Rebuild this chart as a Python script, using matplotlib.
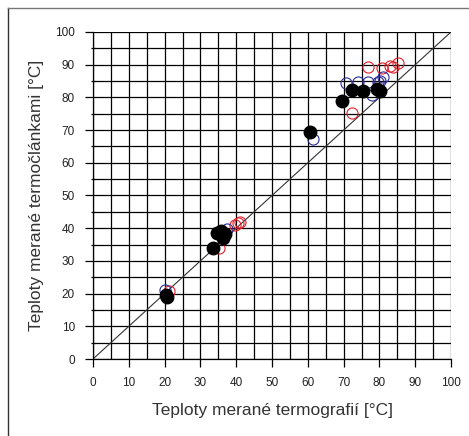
import matplotlib.pyplot as plt
import numpy as np
from matplotlib.lines import Line2D

plt.rcParams['font.family'] = ['Liberation Sans', 'DejaVu Sans']

# termografia (x) vs termoclanky (y)
blackX = [20.6, 20.4, 33.6, 34.5, 36.4, 37.0, 35.8, 60.6, 69.5, 72.3, 75.5, 79.2, 80.2]
blackY = [19.0, 19.6, 33.8, 38.6, 36.9, 38.2, 39.0, 69.5, 79.0, 82.3, 81.9, 82.6, 81.9]

blueX = [20.0, 37.3, 61.5, 70.8, 74.1, 76.9, 79.7, 80.2, 81.1, 77.8]
blueY = [21.1, 39.9, 67.3, 84.3, 84.8, 84.8, 84.8, 85.0, 86.1, 80.8]

redX = [21.2, 35.2, 39.7, 40.6, 41.0, 72.3, 76.9, 80.6, 83.0, 83.9, 85.3]
redY = [20.8, 34.0, 41.0, 41.5, 42.0, 75.1, 89.2, 89.1, 89.5, 89.2, 90.4]

xTicks = np.arange(0, 101, 10)
yTicks = np.arange(0, 101, 10)

fig = plt.figure(figsize=(4.69, 4.36), dpi=100)
ax = fig.add_axes([93/469, 1 - 359/436, 358/469, 327/436])

# grid every 5 units
for v in np.arange(0, 101, 5):
    ax.axvline(v, color='black', lw=0.9, zorder=1)
    ax.axhline(v, color='black', lw=0.9, zorder=1)

ax.plot([0, 100], [0, 100], color='#333333', lw=0.8, zorder=2)

ax.plot(redX, redY, 'o', mfc='none', mec='#e0202a', ms=8, mew=0.8, zorder=3)
ax.plot(blueX, blueY, 'o', mfc='none', mec='#2a2a9a', ms=8, mew=0.8, zorder=4)
ax.plot(blackX, blackY, 'o', color='black', ms=9, zorder=5)

ax.set_xlim(0, 100)
ax.set_ylim(0, 100)
ax.set_xticks(xTicks)
ax.set_yticks(yTicks)
ax.set_yticks(np.arange(5, 100, 10), minor=True)
ax.tick_params(axis='both', which='major', labelsize=8.5, length=6, width=0.9, color='black', pad=7, labelcolor='#222222')
ax.tick_params(axis='y', which='minor', length=3, width=0.9, direction='inout', color='black')
for s in ['top', 'right']:
    ax.spines[s].set_visible(False)
for s in ['left', 'bottom']:
    ax.spines[s].set_color('black')
    ax.spines[s].set_linewidth(0.9)

ax.set_xlabel('Teploty merané termografií [°C]', fontsize=12.5, color='#333333', labelpad=10)
ax.set_ylabel('Teploty merané termočlánkami [°C]', fontsize=12.5, color='#333333', labelpad=8)

# outer frame
fig.add_artist(Line2D([8/469, 8/469], [0, 1 - 8/436], color='#333333', lw=1.0))
fig.add_artist(Line2D([8/469, 1], [1 - 8/436, 1 - 8/436], color='#777777', lw=1.0))

fig.savefig('out.png', dpi=100)
